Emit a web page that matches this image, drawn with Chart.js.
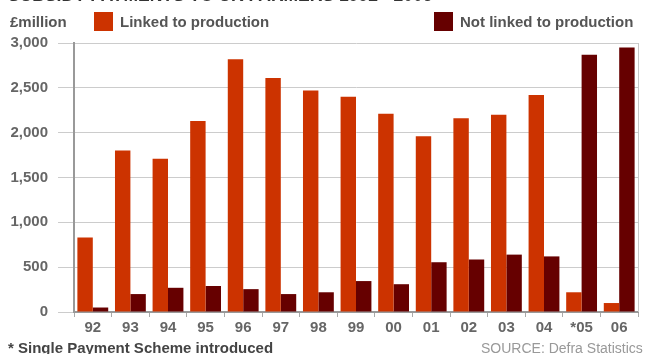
<!DOCTYPE html>
<html>
<head>
<meta charset="utf-8">
<script src="https://cdn.jsdelivr.net/npm/chart.js@4/dist/chart.umd.min.js"></script>
<style>
  html, body { margin: 0; padding: 0; width: 646px; height: 354px; overflow: hidden; background: #fff; }
  body { position: relative; font-family: "Liberation Sans", Arial, sans-serif; }
  #wrap { position: absolute; left: 0; top: 0; width: 646px; height: 354px; }
  .txt { position: absolute; white-space: nowrap; line-height: 1; }
  .title { left: 8px; top: -13px; font-size: 17.5px; font-weight: bold; color: #333; }
  .unit { left: 10px; top: 14px; font-size: 15px; font-weight: bold; color: #555; }
  .box { position: absolute; width: 19px; height: 19px; top: 12px; }
  .lg { top: 14px; font-size: 15px; font-weight: bold; color: #555; }
  .note { left: 8px; top: 340px; font-size: 15px; font-weight: bold; color: #444; }
  .src { left: 481px; top: 341px; font-size: 14px; color: #999; }
</style>
</head>
<body>
<div id="wrap"><canvas id="subsidyChart"></canvas></div>
<div class="txt title">SUBSIDY PAYMENTS TO UK FARMERS 1992 - 2006</div>
<div class="txt unit">£million</div>
<div class="box" style="left:94px; background:#cc3300;"></div>
<div class="txt lg" style="left:120px;">Linked to production</div>
<div class="box" style="left:434px; background:#660000;"></div>
<div class="txt lg" style="left:460px;">Not linked to production</div>
<div class="txt note">* Single Payment Scheme introduced</div>
<div class="txt src">SOURCE: Defra Statistics</div>
<script>
const years = ["92", "93", "94", "95", "96", "97", "98", "99", "00", "01", "02", "03", "04", "*05", "06"];
const linked = [830, 1800, 1710, 2130, 2820, 2610, 2470, 2400, 2210, 1960, 2160, 2200, 2420, 220, 100];
const notLinked = [50, 200, 270, 290, 255, 200, 220, 345, 310, 555, 585, 640, 620, 2870, 2950];
const yTicks = [0, 500, 1000, 1500, 2000, 2500, 3000];

const rightEdge = {
  id: "rightEdge",
  afterDatasetsDraw(chart) {
    const { ctx, chartArea } = chart;
    ctx.save();
    ctx.strokeStyle = "#c8c8c8";
    ctx.lineWidth = 1;
    ctx.beginPath();
    ctx.moveTo(chartArea.right + 0.5, chartArea.top);
    ctx.lineTo(chartArea.right + 0.5, chartArea.bottom);
    ctx.stroke();
    ctx.restore();
  },
};

const ctx = document.getElementById("subsidyChart");

new Chart(ctx, {
  type: "bar",
  data: {
    labels: years,
    datasets: [
      {
        label: "Linked to production",
        data: linked,
        backgroundColor: "#cc3300",
        categoryPercentage: 0.82,
        barPercentage: 1,
      },
      {
        label: "Not linked to production",
        data: notLinked,
        backgroundColor: "#660000",
        categoryPercentage: 0.82,
        barPercentage: 1,
      },
    ],
  },
  options: {
    responsive: true,
    maintainAspectRatio: false,
    animation: false,
    locale: "en-US",
    layout: {
      padding: { top: 43, right: 8, bottom: 0, left: 0 },
    },
    plugins: {
      legend: { display: false },
      tooltip: { enabled: false },
    },
    scales: {
      x: {
        afterFit(scale) {
          scale.height = 42;
        },
        ticks: {
          color: "#666",
          padding: 2,
          font: { family: "Liberation Sans", size: 15, weight: "bold" },
        },
        grid: {
          offset: true,
          drawOnChartArea: false,
          tickLength: 5,
          color: "#aaa",
        },
        border: {
          color: "#999",
          width: 2,
        },
      },
      y: {
        min: 0,
        max: 3000,
        afterFit(scale) {
          scale.width = 74;
        },
        afterBuildTicks(scale) {
          scale.ticks = yTicks.map((v) => ({ value: v }));
        },
        ticks: {
          color: "#666",
          padding: 10,
          font: { family: "Liberation Sans", size: 15, weight: "bold" },
        },
        grid: {
          color: "#cccccc",
          tickLength: 16,
        },
        border: {
          color: "#999",
          width: 2,
        },
      },
    },
  },
  plugins: [rightEdge],
});
</script>
</body>
</html>
